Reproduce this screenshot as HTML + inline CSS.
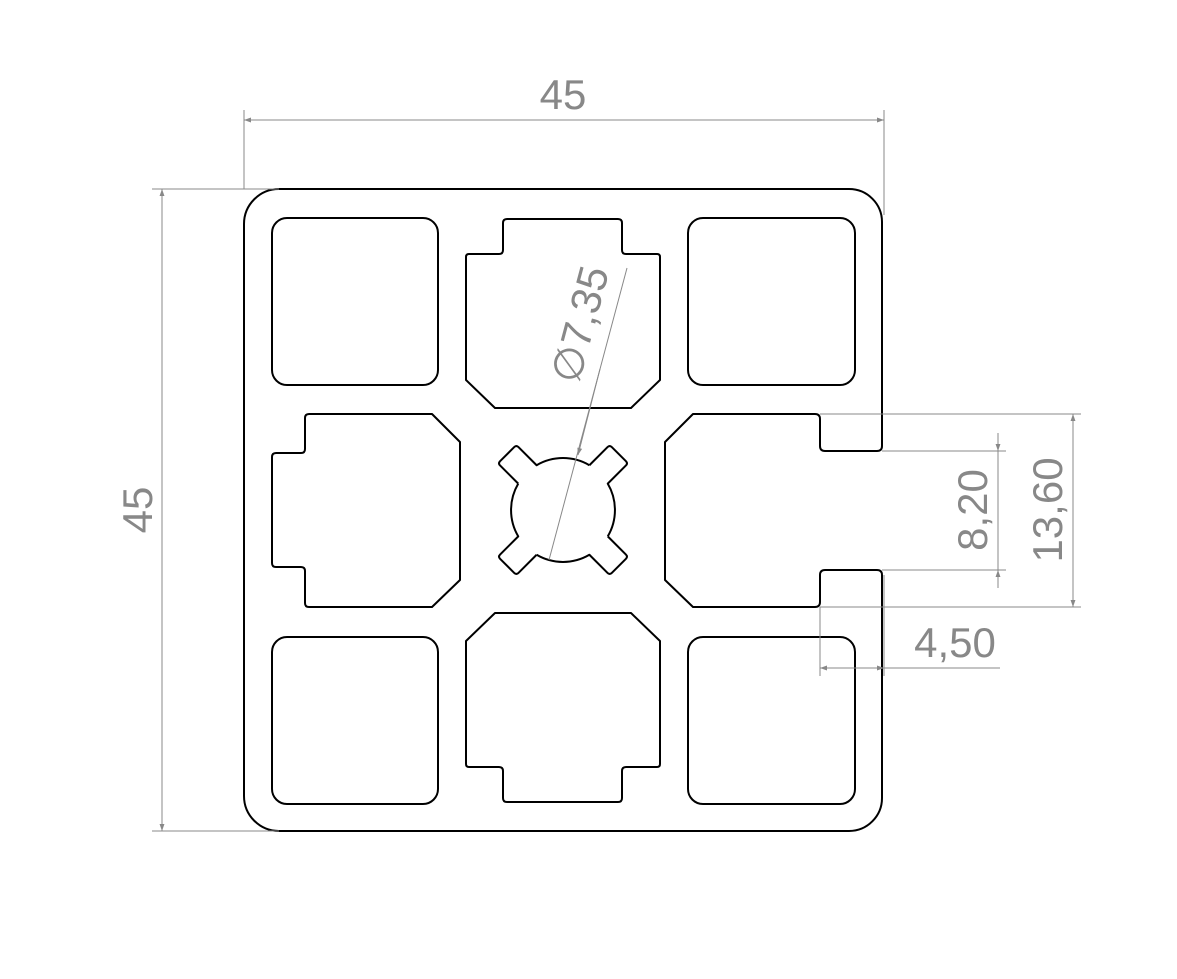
<!DOCTYPE html>
<html><head><meta charset="utf-8"><style>html,body{margin:0;padding:0;background:#fff}svg{display:block}</style></head>
<body>
<svg width="1177" height="979" viewBox="0 0 1177 979" xmlns="http://www.w3.org/2000/svg">
<defs>
<marker id="ar" viewBox="0 0 10 10" refX="10" refY="5" markerWidth="18" markerHeight="7" markerUnits="userSpaceOnUse" orient="auto-start-reverse"><path d="M0,1.5 L10,5 L0,8.5 Z" fill="#888"/></marker>
</defs>
<g fill="none" stroke="#000" stroke-width="2" stroke-linejoin="round">
<path d="M279,189 H849 A33,33 0 0 1 882,222 V446 Q882,451 877,451 H825 Q820,451 820,446 V419 Q820,414 815,414 H693 L665,442 V580 L693,607 H815 Q820,607 820,602 V575 Q820,570 825,570 H877 Q882,570 882,575 V798 A33,33 0 0 1 849,831 H279 A35,35 0 0 1 244,796 V224 A35,35 0 0 1 279,189 Z"/>
<rect x="272" y="218" width="166" height="167" rx="15"/>
<rect x="688" y="218" width="167" height="167" rx="15"/>
<rect x="272" y="637" width="166" height="167" rx="15"/>
<rect x="688" y="637" width="167" height="167" rx="15"/>
<path d="M507,219 H618 Q622,219 622,223 V250 Q622,254 626,254 H657 Q660,254 660,257 V380 L631,408 H495 L466,380 V257 Q466,254 469,254 H499 Q503,254 503,250 V223 Q503,219 507,219 Z"/>
<path d="M507,802 H618 Q622,802 622,798 V771 Q622,767 626,767 H657 Q660,767 660,764 V641 L631,613 H495 L466,641 V764 Q466,767 469,767 H499 Q503,767 503,771 V798 Q503,802 507,802 Z"/>
<path d="M272,457 V563 Q272,567 276,567 H301 Q305,567 305,571 V603 Q305,607 309,607 H432 L460,580 V442 L432,414 H309 Q305,414 305,418 V449 Q305,453 301,453 H276 Q272,453 272,457 Z"/>
<g transform="translate(563,510) rotate(45)"><path d="M50.3,-13 L76,-13 Q79,-13 79,-10 V10 Q79,13 76,13 L50.3,13 A52,52 0 0 1 13,50.3"/></g>
<g transform="translate(563,510) rotate(135)"><path d="M50.3,-13 L76,-13 Q79,-13 79,-10 V10 Q79,13 76,13 L50.3,13 A52,52 0 0 1 13,50.3"/></g>
<g transform="translate(563,510) rotate(225)"><path d="M50.3,-13 L76,-13 Q79,-13 79,-10 V10 Q79,13 76,13 L50.3,13 A52,52 0 0 1 13,50.3"/></g>
<g transform="translate(563,510) rotate(315)"><path d="M50.3,-13 L76,-13 Q79,-13 79,-10 V10 Q79,13 76,13 L50.3,13 A52,52 0 0 1 13,50.3"/></g>
</g>
<g stroke="#888" stroke-width="1" fill="none">
<line x1="244" y1="110" x2="244" y2="189"/>
<line x1="884" y1="110" x2="884" y2="215"/>
<line x1="244" y1="120" x2="884" y2="120" marker-start="url(#ar)" marker-end="url(#ar)"/>
<line x1="152" y1="189" x2="279" y2="189"/>
<line x1="152" y1="831" x2="279" y2="831"/>
<line x1="162" y1="189" x2="162" y2="831" marker-start="url(#ar)" marker-end="url(#ar)"/>
<line x1="882" y1="451" x2="1006" y2="451"/>
<line x1="882" y1="570" x2="1006" y2="570"/>
<line x1="998" y1="433" x2="998" y2="588"/>
<line x1="998" y1="433" x2="998" y2="451" marker-end="url(#ar)"/>
<line x1="998" y1="588" x2="998" y2="570" marker-end="url(#ar)"/>
<line x1="820" y1="414" x2="1081" y2="414"/>
<line x1="820" y1="607" x2="1081" y2="607"/>
<line x1="1073" y1="414" x2="1073" y2="607" marker-start="url(#ar)" marker-end="url(#ar)"/>
<line x1="820" y1="607" x2="820" y2="676"/>
<line x1="884" y1="575" x2="884" y2="676"/>
<line x1="820" y1="668" x2="884" y2="668" marker-start="url(#ar)" marker-end="url(#ar)"/>
<line x1="884" y1="668" x2="1000" y2="668"/>
<line x1="627" y1="268" x2="549" y2="560"/>
<line x1="600" y1="369" x2="578" y2="455" marker-end="url(#ar)"/>
</g>
<g fill="#888" font-family="'Liberation Sans Narrow','Liberation Sans','DejaVu Sans',sans-serif" font-size="42" text-anchor="middle">
<text x="563" y="109">45</text>
<text transform="translate(152,510) rotate(-90)">45</text>
<text transform="translate(987,510) rotate(-90)">8,20</text>
<text transform="translate(1062,510) rotate(-90)">13,60</text>
<text x="955" y="657">4,50</text>
<text transform="translate(594,328) rotate(-75)">∅7,35</text>
</g>
</svg>
</body></html>
